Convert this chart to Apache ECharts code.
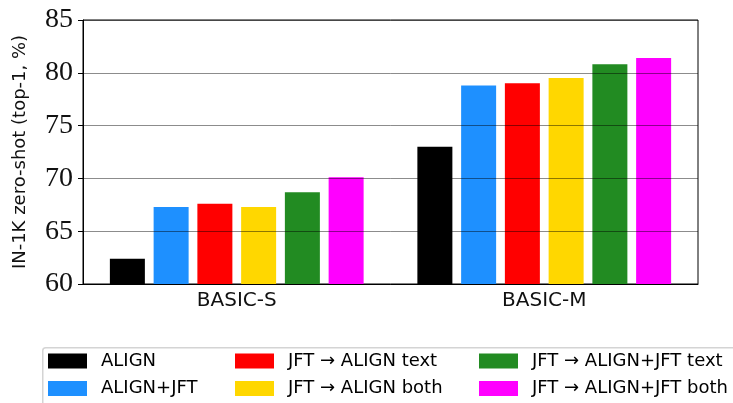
<!DOCTYPE html>
<html>
<head>
<meta charset="utf-8">
<script src="https://cdn.jsdelivr.net/npm/echarts@6/dist/echarts.min.js"></script>
<style>html,body{margin:0;padding:0;background:#fff}#c{width:733px;height:403px}</style>
</head>
<body>
<div id="c"></div>
<script>
const categories = ['BASIC-S', 'BASIC-M'];
const seriesNames = ['ALIGN', 'ALIGN+JFT', 'JFT \u2192 ALIGN text', 'JFT \u2192 ALIGN both', 'JFT \u2192 ALIGN+JFT text', 'JFT \u2192 ALIGN+JFT both'];
const alignVals = [62.4, 73.0];
const alignJftVals = [67.3, 78.8];
const jftAlignTextVals = [67.6, 79.0];
const jftAlignBothVals = [67.3, 79.5];
const jftAlignJftTextVals = [68.7, 80.8];
const jftAlignJftBothVals = [70.1, 81.4];
const colors = ['#000000', '#1E90FF', '#FF0000', '#FFD700', '#228B22', '#FF00FF'];
const yTicks = [60, 65, 70, 75, 80, 85];

const allVals = [alignVals, alignJftVals, jftAlignTextVals, jftAlignBothVals, jftAlignJftTextVals, jftAlignJftBothVals];
const chart = echarts.init(document.getElementById('c'), null, {renderer: 'canvas'});

const legendCommon = {
  orient: 'vertical', top: 352, itemWidth: 39, itemHeight: 15, itemGap: 9.5,
  icon: 'rect', padding: 0, selectedMode: false,
  textStyle: {fontFamily: 'DejaVu Sans', fontSize: 18, color: '#000', padding: [0, 0, 0, 9]}
};

chart.setOption({
  animation: false,
  grid: {left: 83, right: 35, top: 20, bottom: 119, show: true, borderColor: '#000', borderWidth: 1, backgroundColor: 'transparent'},
  graphic: [{
    type: 'rect', left: 42, top: 347, z: -1,
    shape: {width: 720, height: 80, r: 3},
    style: {fill: '#fff', stroke: '#d4d4d4', lineWidth: 1.5}
  }],
  legend: [
    Object.assign({left: 48, data: seriesNames.slice(0, 2)}, legendCommon),
    Object.assign({left: 235, data: seriesNames.slice(2, 4)}, legendCommon),
    Object.assign({left: 479, data: seriesNames.slice(4, 6)}, legendCommon)
  ],
  xAxis: {
    type: 'category', data: categories,
    axisLine: {lineStyle: {color: '#000', width: 1}},
    axisTick: {alignWithLabel: true, length: 5, lineStyle: {color: '#000'}},
    axisLabel: {fontFamily: 'DejaVu Sans', fontSize: 20, color: '#111', margin: 7}
  },
  yAxis: {
    type: 'value', min: 60, max: 85, interval: 5, z: 5,
    name: 'IN-1K zero-shot (top-1, %)', nameLocation: 'middle', nameGap: 54, nameRotate: 90,
    nameTextStyle: {fontFamily: 'DejaVu Sans', fontSize: 18, color: '#111'},
    axisLine: {show: true, lineStyle: {color: '#000', width: 1}},
    axisTick: {show: true, length: 5, lineStyle: {color: '#000'}},
    axisLabel: {fontFamily: 'Liberation Serif', fontSize: 28, color: '#111', margin: 10,
      formatter: v => yTicks.includes(v) ? String(v) : ''},
    splitLine: {show: true, lineStyle: {color: 'rgba(0,0,0,0.45)', width: 1}}
  },
  series: allVals.map((vals, i) => ({
    name: seriesNames[i], type: 'bar', data: vals,
    barWidth: 35, barGap: '25%',
    itemStyle: {color: colors[i]}
  }))
});
</script>
</body>
</html>
